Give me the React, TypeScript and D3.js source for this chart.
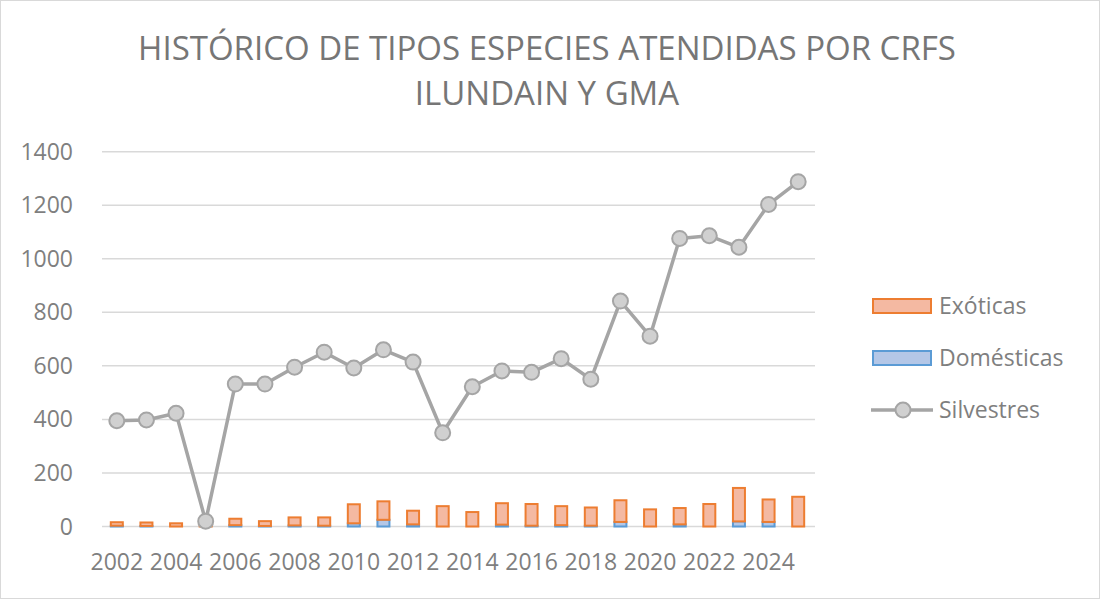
import { useEffect, useRef } from "react"
import * as d3 from "d3"

const years = [
  "2002", "2003", "2004", "2005", "2006", "2007", "2008", "2009", "2010", "2011", "2012", "2013",
  "2014", "2015", "2016", "2017", "2018", "2019", "2020", "2021", "2022", "2023", "2024", "2025",
]
const domesticas = [3, 2, 0, 0, 5, 2, 4, 3, 12, 25, 8, 0, 0, 7, 3, 5, 3, 17, 0, 8, 0, 19, 17, 0]
const exoticas = [13, 13, 12, 5, 24, 18, 30, 31, 71, 69, 51, 76, 54, 80, 81, 71, 68, 81, 64, 61, 84, 125, 84, 111]
const silvestres = [
  395, 398, 423, 20, 532, 532, 595, 651, 592, 660, 614, 350,
  522, 581, 576, 627, 550, 842, 711, 1076, 1086, 1043, 1203, 1288,
]
const yTicks = [0, 200, 400, 600, 800, 1000, 1200, 1400]
const titleLines = ["HISTÓRICO DE TIPOS ESPECIES ATENDIDAS POR CRFS", "ILUNDAIN Y GMA"]

const W = 1100
const H = 599
const font = "'Open Sans', sans-serif"
const textColor = "#7f7f7f"

export default function App() {
  const svgRef = useRef<SVGSVGElement>(null)

  useEffect(() => {
    document.body.style.margin = "0"
    if (!svgRef.current) return
    const svg = d3.select(svgRef.current)
    svg.selectAll("*").remove()

    // frame
    svg.append("rect")
      .attr("x", 0.5).attr("y", 0.5)
      .attr("width", W - 1).attr("height", H - 1)
      .attr("fill", "#fff").attr("stroke", "#d9d9d9")

    // title
    titleLines.forEach((t, i) => {
      svg.append("text")
        .attr("x", 547).attr("y", 60 + i * 45)
        .attr("text-anchor", "middle")
        .attr("font-family", font).attr("font-size", 33)
        .attr("fill", "#767676")
        .text(t)
    })

    const x = d3.scaleBand().domain(years).range([102, 813])
    const y = d3.scaleLinear().domain([0, 1400]).range([526.5, 151.7])

    // grid
    svg.append("g")
      .selectAll("line")
      .data(yTicks)
      .enter()
      .append("line")
      .attr("x1", 102).attr("x2", 815)
      .attr("y1", (d) => y(d)).attr("y2", (d) => y(d))
      .attr("stroke", "#d9d9d9").attr("stroke-width", 1.5)

    // y labels
    svg.append("g")
      .selectAll("text")
      .data(yTicks)
      .enter()
      .append("text")
      .attr("x", 73).attr("y", (d) => y(d) + 8)
      .attr("text-anchor", "end")
      .attr("font-family", font).attr("font-size", 23)
      .attr("fill", textColor)
      .text((d) => d)

    // x labels, every other year
    svg.append("g")
      .selectAll("text")
      .data(years.filter((_, i) => i % 2 === 0))
      .enter()
      .append("text")
      .attr("x", (d) => (x(d) || 0) + x.bandwidth() / 2)
      .attr("y", 570)
      .attr("text-anchor", "middle")
      .attr("font-family", font).attr("font-size", 23)
      .attr("fill", textColor)
      .text((d) => d)

    // stacked bars
    const barW = 12
    const rows = years.map((yr, i) => ({ yr, dom: domesticas[i], exo: exoticas[i] }))
    const bars = svg.append("g")
    bars.selectAll(".dom")
      .data(rows.filter((r) => r.dom > 0))
      .enter()
      .append("rect")
      .attr("x", (d) => (x(d.yr) || 0) + x.bandwidth() / 2 - barW / 2)
      .attr("y", (d) => y(d.dom))
      .attr("width", barW)
      .attr("height", (d) => y(0) - y(d.dom))
      .attr("fill", "#b4c7e7").attr("stroke", "#5b9bd5").attr("stroke-width", 2)
    bars.selectAll(".exo")
      .data(rows)
      .enter()
      .append("rect")
      .attr("x", (d) => (x(d.yr) || 0) + x.bandwidth() / 2 - barW / 2)
      .attr("y", (d) => y(d.dom + d.exo))
      .attr("width", barW)
      .attr("height", (d) => y(d.dom) - y(d.dom + d.exo))
      .attr("fill", "#f4b9a2").attr("stroke", "#ed7d31").attr("stroke-width", 2)

    // line
    const cx = (i: number) => (x(years[i]) || 0) + x.bandwidth() / 2
    const line = d3.line<number>().x((_, i) => cx(i)).y((d) => y(d))
    svg.append("path")
      .attr("d", line(silvestres) || "")
      .attr("fill", "none").attr("stroke", "#a5a5a5").attr("stroke-width", 3.5)
      .attr("stroke-linejoin", "round")
    svg.append("g")
      .selectAll("circle")
      .data(silvestres)
      .enter()
      .append("circle")
      .attr("cx", (_, i) => cx(i)).attr("cy", (d) => y(d))
      .attr("r", 7.5)
      .attr("fill", "#d0d0d0").attr("stroke", "#a5a5a5").attr("stroke-width", 2)

    // legend
    const lg = svg.append("g").attr("font-family", font).attr("font-size", 23).attr("fill", textColor)
    lg.append("rect").attr("x", 873).attr("y", 299).attr("width", 58).attr("height", 14)
      .attr("fill", "#f4b9a2").attr("stroke", "#ed7d31").attr("stroke-width", 2)
    lg.append("text").attr("x", 939).attr("y", 314).text("Exóticas")
    lg.append("rect").attr("x", 873).attr("y", 351).attr("width", 58).attr("height", 14)
      .attr("fill", "#b4c7e7").attr("stroke", "#5b9bd5").attr("stroke-width", 2)
    lg.append("text").attr("x", 939).attr("y", 366).text("Domésticas")
    lg.append("line").attr("x1", 871).attr("x2", 933).attr("y1", 410).attr("y2", 410)
      .attr("stroke", "#a5a5a5").attr("stroke-width", 3.5)
    lg.append("circle").attr("cx", 903).attr("cy", 410).attr("r", 7.5)
      .attr("fill", "#d0d0d0").attr("stroke", "#a5a5a5").attr("stroke-width", 2)
    lg.append("text").attr("x", 939).attr("y", 418).text("Silvestres")
  }, [])

  return <svg ref={svgRef} width={W} height={H} style={{ display: "block" }} />
}
